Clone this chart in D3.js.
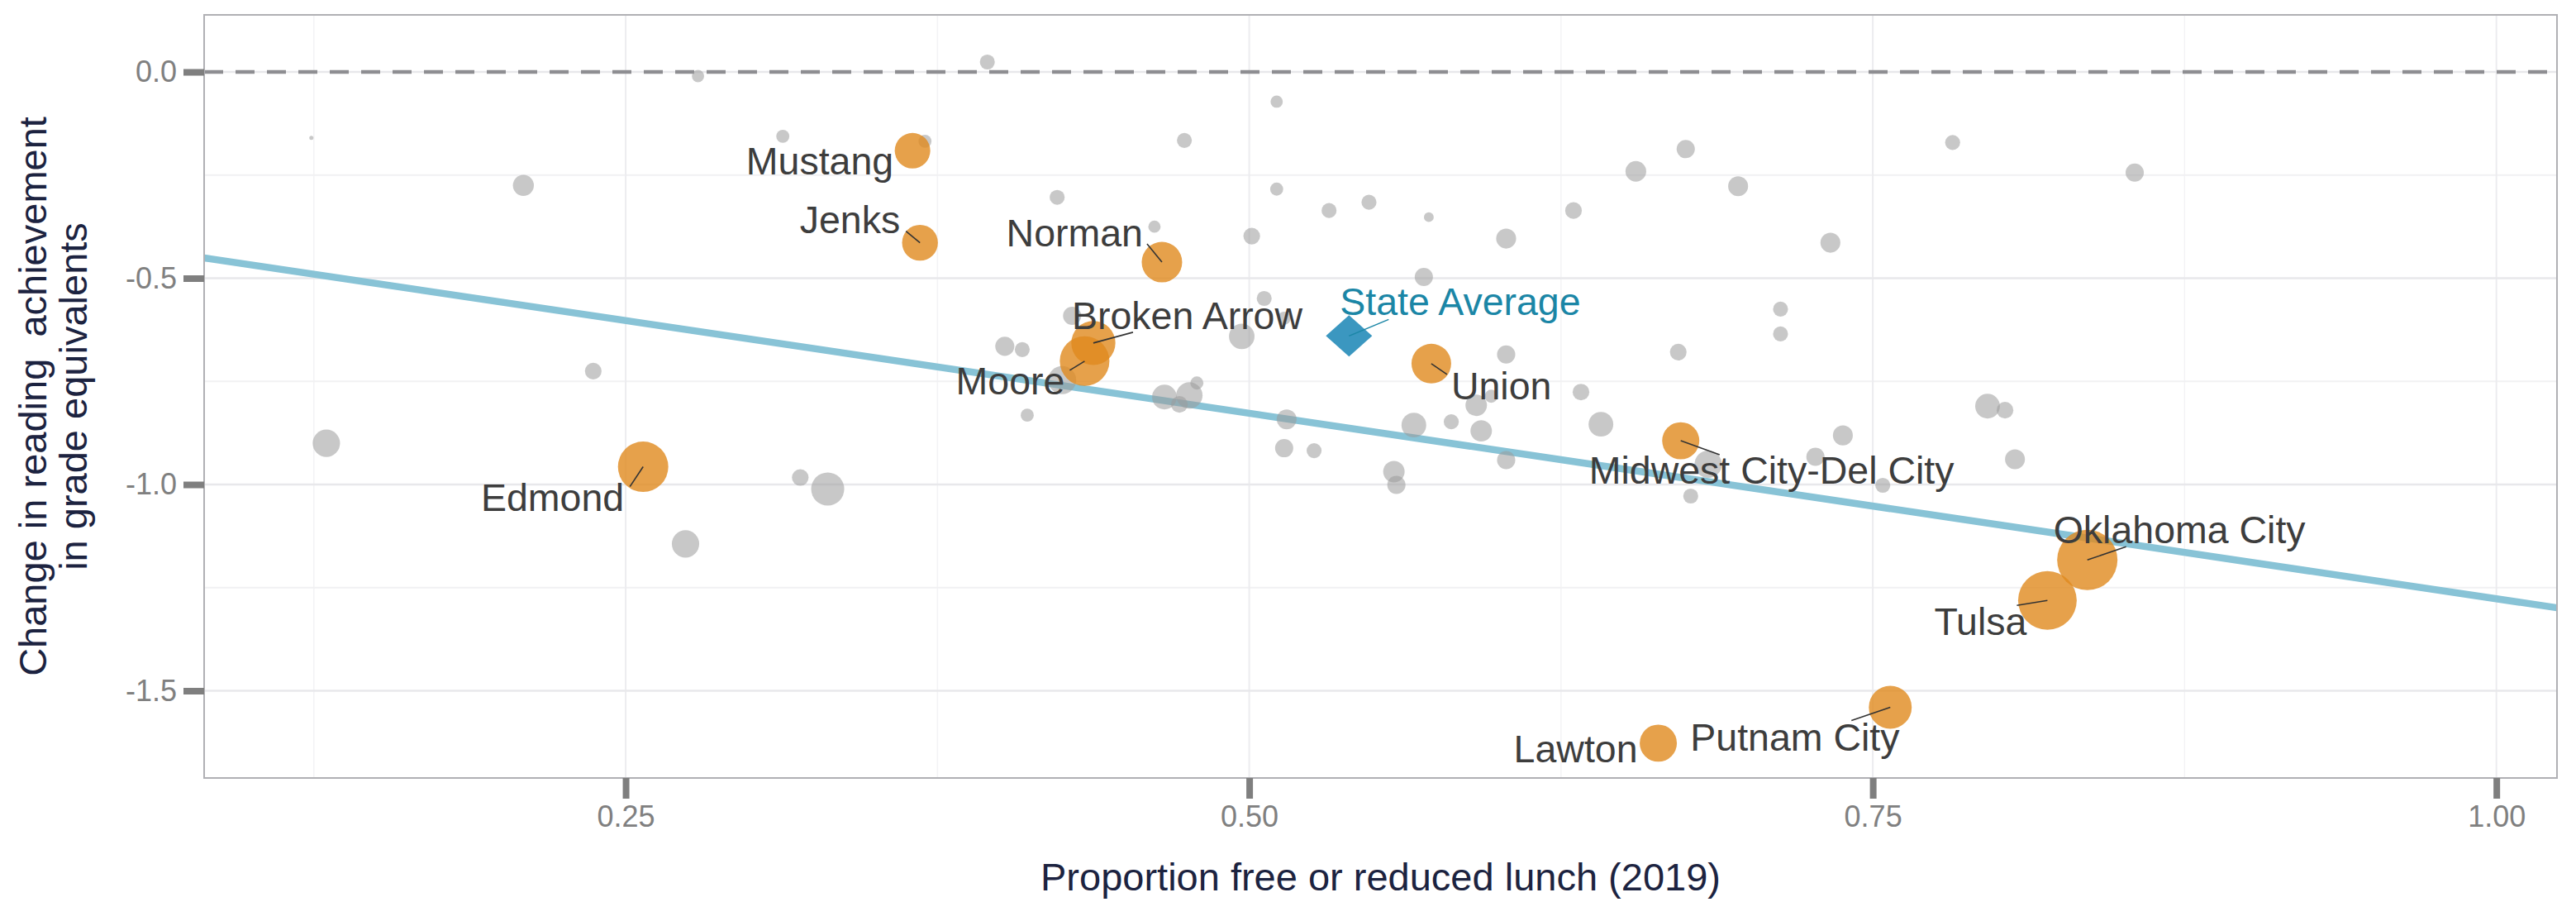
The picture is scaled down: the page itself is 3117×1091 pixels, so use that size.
<!DOCTYPE html>
<html>
<head>
<meta charset="utf-8">
<script src="https://cdn.jsdelivr.net/npm/d3@7"></script>
<style>
  body { margin: 0; background: white; }
  svg { display: block; font-family: "Liberation Sans", Arial, Helvetica, sans-serif; }
</style>
</head>
<body>
<div id="visualization"></div>
<script>
// districts that are not called out (free/reduced lunch share, change in GE, enrollment in 1000s)
let otherFrl = [0.124, 0.209, 0.237, 0.130, 0.279, 0.395, 0.511, 0.313, 0.370, 0.474,
  0.511, 0.423, 0.462, 0.501, 0.532, 0.506, 0.429, 0.514, 0.497, 0.402,
  0.409, 0.425, 0.411, 0.466, 0.476, 0.479, 0.472, 0.515, 0.514, 0.526,
  0.548, 0.572, 0.630, 0.603, 0.655, 0.675, 0.696, 0.782, 0.733, 0.855,
  0.570, 0.713, 0.713, 0.672, 0.603, 0.633, 0.591, 0.597, 0.566, 0.581,
  0.593, 0.641, 0.603, 0.558, 0.559, 0.677, 0.684, 0.727, 0.738, 0.754,
  0.796, 0.803, 0.807, 0.274, 0.320, 0.331];
let otherChange = [-0.160, -0.275, -0.725, -0.900, -0.010, 0.024, -0.072, -0.156, -0.168, -0.166,
  -0.284, -0.304, -0.375, -0.398, -0.336, -0.549, -0.591, -0.597, -0.641, -0.665,
  -0.673, -0.747, -0.832, -0.788, -0.784, -0.754, -0.806, -0.842, -0.912, -0.918,
  -0.316, -0.352, -0.336, -0.404, -0.241, -0.187, -0.277, -0.171, -0.414, -0.244,
  -0.497, -0.575, -0.635, -0.679, -0.685, -0.776, -0.808, -0.786, -0.856, -0.848,
  -0.870, -0.854, -0.941, -0.969, -1.001, -1.028, -0.951, -0.933, -0.881, -1.002,
  -0.810, -0.820, -0.939, -1.144, -0.983, -1.011];
let otherEnroll = [0.16, 4.1, 2.6, 7.0, 1.4, 2.1, 1.4, 1.6, 1.6, 2.1,
  1.6, 2.1, 1.4, 2.6, 2.1, 2.1, 3.1, 1.6, 6.1, 3.4,
  2.1, 7.4, 1.6, 5.7, 6.5, 1.6, 2.6, 3.7, 3.1, 2.1,
  2.1, 0.9, 2.6, 3.7, 4.0, 3.1, 3.7, 2.1, 3.7, 3.1,
  3.1, 2.1, 2.1, 2.6, 3.1, 2.6, 4.3, 1.6, 5.7, 2.1,
  4.3, 5.7, 3.1, 4.3, 3.1, 2.1, 7.0, 3.1, 3.7, 2.1,
  5.7, 2.6, 3.7, 7.0, 2.6, 10.2];

// large districts that get a label
let bigNames = ["Mustang", "Jenks", "Norman", "Broken Arrow", "Moore", "Union",
  "Midwest City-Del City", "Edmond", "Oklahoma City", "Tulsa", "Lawton", "Putnam City"];
let bigFrl = [0.365, 0.368, 0.465, 0.4375, 0.434, 0.573, 0.673, 0.257, 0.836, 0.820, 0.664, 0.757];
let bigChange = [-0.191, -0.414, -0.461, -0.657, -0.701, -0.707, -0.894, -0.957, -1.183, -1.281, -1.627, -1.540];
let bigEnroll = [11.8, 12.0, 15.3, 18.2, 23.0, 14.7, 12.9, 23.7, 34.0, 32.1, 12.9, 17.2];

let stateName = "State Average";
let stateFrl = 0.540;
let stateChange = -0.640;

// fitted line: change = a + b * frl
let fitIntercept = -0.378;
let fitSlope = -0.899;

let xTicks = [0.25, 0.50, 0.75, 1.00];
let xMinor = [0.125, 0.375, 0.625, 0.875];
let yTicks = [0.0, -0.5, -1.0, -1.5];
let yMinor = [-0.25, -0.75, -1.25];

// where each label sits relative to its dot (like ggrepel output)
let labelNudge = {
  "Mustang": {dx: -23, dy: 29, anchor: "end", leader: null},
  "Jenks": {dx: -24, dy: -12, anchor: "end", leader: [-17, -14]},
  "Norman": {dx: -23, dy: -19, anchor: "end", leader: [-18, -22]},
  "Broken Arrow": {dx: -26, dy: -17, anchor: "start", leader: [48, -13]},
  "Moore": {dx: -24, dy: 40, anchor: "end", leader: [-18, 11]},
  "Union": {dx: 24, dy: 43, anchor: "start", leader: [19, 13]},
  "Midwest City-Del City": {dx: -111, dy: 52, anchor: "start", leader: [47, 17]},
  "Edmond": {dx: -23, dy: 53, anchor: "end", leader: [-16, 24]},
  "Oklahoma City": {dx: -41, dy: -20, anchor: "start", leader: [47, -16]},
  "Tulsa": {dx: -25, dy: 42, anchor: "end", leader: [-37, 6]},
  "Lawton": {dx: -25, dy: 23, anchor: "end", leader: null},
  "Putnam City": {dx: -242, dy: 53, anchor: "start", leader: [-47, 16]},
  "State Average": {dx: -11, dy: -25, anchor: "start", leader: [48, -20]}
};

let w = 3117;
let h = 1091;
let margin = {top: 18, right: 23, bottom: 150, left: 247};

let viz = d3.select("#visualization")
  .append("svg")
    .attr("width", w)
    .attr("height", h)
;

let xScale = d3.scaleLinear().domain([0.081, 1.0243]).range([margin.left, w - margin.right]);
let yScale = d3.scaleLinear().domain([0.1383, -1.7114]).range([margin.top, h - margin.bottom]);
let rScale = d3.scaleSqrt().domain([0, 34]).range([0, 36.5]);

// background grid
let grid = viz.append("g").attr("class", "grid");
grid.selectAll(".xminor").data(xMinor).enter().append("line")
  .attr("x1", d => xScale(d)).attr("x2", d => xScale(d))
  .attr("y1", margin.top).attr("y2", h - margin.bottom)
  .attr("stroke", "#f3f3f5").attr("stroke-width", 1.5);
grid.selectAll(".yminor").data(yMinor).enter().append("line")
  .attr("y1", d => yScale(d)).attr("y2", d => yScale(d))
  .attr("x1", margin.left).attr("x2", w - margin.right)
  .attr("stroke", "#f1f1f3").attr("stroke-width", 2);
grid.selectAll(".xmajor").data(xTicks).enter().append("line")
  .attr("x1", d => xScale(d)).attr("x2", d => xScale(d))
  .attr("y1", margin.top).attr("y2", h - margin.bottom)
  .attr("stroke", "#ececef").attr("stroke-width", 2);
grid.selectAll(".ymajor").data(yTicks).enter().append("line")
  .attr("y1", d => yScale(d)).attr("y2", d => yScale(d))
  .attr("x1", margin.left).attr("x2", w - margin.right)
  .attr("stroke", "#e8e8eb").attr("stroke-width", 2.5);

// zero reference
viz.append("line")
  .attr("x1", margin.left).attr("x2", w - margin.right)
  .attr("y1", yScale(0)).attr("y2", yScale(0))
  .attr("stroke", "#8e8e92")
  .attr("stroke-width", 4.5)
  .attr("stroke-dasharray", "23,15");

// fitted line
let xd = xScale.domain();
viz.append("line")
  .attr("x1", xScale(xd[0])).attr("y1", yScale(fitIntercept + fitSlope * xd[0]))
  .attr("x2", xScale(xd[1])).attr("y2", yScale(fitIntercept + fitSlope * xd[1]))
  .attr("stroke", "#88c3d6")
  .attr("stroke-width", 8.5);

// other districts
let others = otherFrl.map(function(d, i){
  return {frl: d, change: otherChange[i], enroll: otherEnroll[i]};
});
viz.append("g").selectAll("circle").data(others).enter().append("circle")
  .attr("cx", d => xScale(d.frl))
  .attr("cy", d => yScale(d.change))
  .attr("r", d => rScale(d.enroll))
  .attr("fill", "#9a9a9a")
  .attr("fill-opacity", 0.55)
;

// labelled districts
let bigs = bigNames.map(function(d, i){
  return {name: d, frl: bigFrl[i], change: bigChange[i], enroll: bigEnroll[i]};
});
viz.append("g").selectAll("circle").data(bigs).enter().append("circle")
  .attr("cx", d => xScale(d.frl))
  .attr("cy", d => yScale(d.change))
  .attr("r", d => rScale(d.enroll))
  .attr("fill", "#e08a1e")
  .attr("fill-opacity", 0.8)
;

// state average diamond
let sx = xScale(stateFrl);
let sy = yScale(stateChange);
viz.append("path")
  .attr("d", "M" + (sx - 28) + "," + sy + "L" + sx + "," + (sy - 25) + "L" + (sx + 28) + "," + sy + "L" + sx + "," + (sy + 25) + "Z")
  .attr("fill", "#3b97c0")
;

// leader lines and labels
let labelData = bigs.concat([{name: stateName, frl: stateFrl, change: stateChange, state: true}]);

let labelGroup = viz.append("g").attr("class", "labels");
labelGroup.selectAll("line").data(labelData.filter(d => labelNudge[d.name].leader)).enter().append("line")
  .attr("x1", d => xScale(d.frl))
  .attr("y1", d => yScale(d.change))
  .attr("x2", d => xScale(d.frl) + labelNudge[d.name].leader[0])
  .attr("y2", d => yScale(d.change) + labelNudge[d.name].leader[1])
  .attr("stroke", d => d.state ? "#1b86a6" : "#333333")
  .attr("stroke-width", 1.6)
;
labelGroup.selectAll("text").data(labelData).enter().append("text")
  .text(d => d.name)
  .attr("x", d => xScale(d.frl) + labelNudge[d.name].dx)
  .attr("y", d => yScale(d.change) + labelNudge[d.name].dy)
  .attr("text-anchor", d => labelNudge[d.name].anchor)
  .attr("font-size", "46.5px")
  .attr("fill", d => d.state ? "#1b86a6" : "#3d3d3d")
;

// panel border
viz.append("rect")
  .attr("x", margin.left).attr("y", margin.top)
  .attr("width", w - margin.left - margin.right)
  .attr("height", h - margin.top - margin.bottom)
  .attr("fill", "none")
  .attr("stroke", "#b0b0b4")
  .attr("stroke-width", 2)
;

// axes
let xAxis = d3.axisBottom(xScale).tickValues(xTicks).tickSize(25).tickPadding(8)
  .tickFormat(d => d.toFixed(2));
let xAxisGroup = viz.append("g")
  .attr("class", "xaxisgroup")
  .attr("transform", "translate(0," + (h - margin.bottom) + ")")
;
xAxisGroup.call(xAxis);

let yAxis = d3.axisLeft(yScale).tickValues(yTicks).tickSize(25).tickPadding(8)
  .tickFormat(d => d.toFixed(1));
let yAxisGroup = viz.append("g")
  .attr("class", "yaxisgroup")
  .attr("transform", "translate(" + margin.left + ",0)")
;
yAxisGroup.call(yAxis);

viz.selectAll(".xaxisgroup, .yaxisgroup").select(".domain").remove();
viz.selectAll(".xaxisgroup .tick line, .yaxisgroup .tick line")
  .attr("stroke", "#7f7f7f")
  .attr("stroke-width", 8);
viz.selectAll(".xaxisgroup .tick text, .yaxisgroup .tick text")
  .attr("font-size", "36px")
  .attr("font-family", "Liberation Sans, Arial, sans-serif")
  .attr("fill", "#808080");

// axis titles
let cx = (margin.left + w - margin.right) / 2;
let cy = (margin.top + h - margin.bottom) / 2;
viz.append("text")
  .text("Proportion free or reduced lunch (2019)")
  .attr("x", cx)
  .attr("y", 1077)
  .attr("text-anchor", "middle")
  .attr("font-size", "47px")
  .attr("fill", "#1c2340");

viz.append("text")
  .text("Change in reading  achievement")
  .style("white-space", "pre")
  .attr("transform", "translate(56," + cy + ") rotate(-90)")
  .attr("text-anchor", "middle")
  .attr("font-size", "47px")
  .attr("fill", "#1c2340");
viz.append("text")
  .text("in grade equivalents")
  .attr("transform", "translate(105," + cy + ") rotate(-90)")
  .attr("text-anchor", "middle")
  .attr("font-size", "47px")
  .attr("fill", "#1c2340");
</script>
</body>
</html>
